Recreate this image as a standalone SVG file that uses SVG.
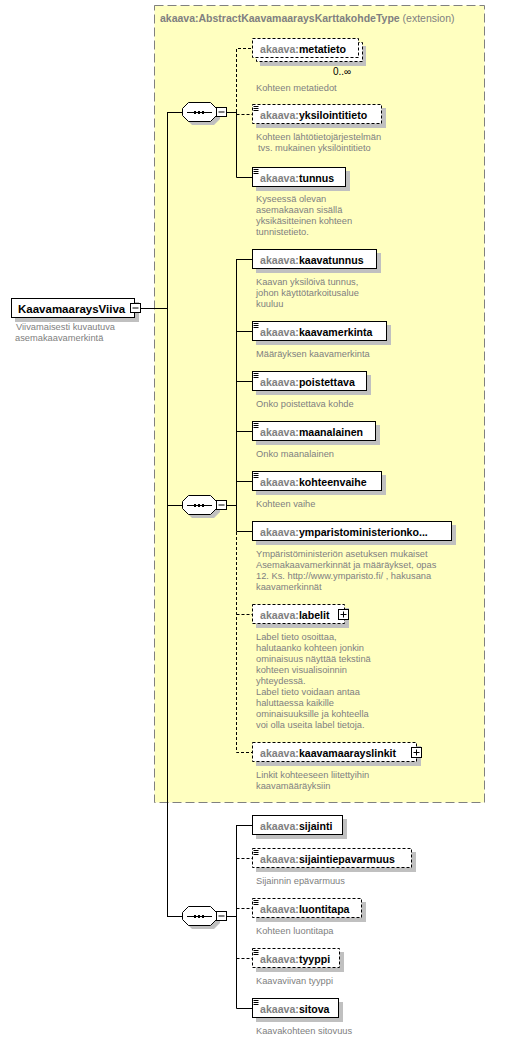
<svg xmlns="http://www.w3.org/2000/svg" width="527" height="1041" viewBox="0 0 527 1041">
<style>
.bg{fill:#fff}
.ext{fill:#ffffc0;stroke:#808080;stroke-width:1;stroke-dasharray:9,4}
.ttl{font-family:"Liberation Sans",Arial,sans-serif;font-size:10.5px;fill:#808080}
.sh{fill:#c0c0c0}
.box{fill:#fff;stroke:#000;stroke-width:1}
.opt{stroke-dasharray:3,2}
.ln{stroke:#000;stroke-width:1;fill:none}
.dl{stroke-dasharray:3,2}
.nm{font-family:"Liberation Sans",Arial,sans-serif;font-weight:bold;font-size:10.6px;fill:#000}
.pfx{fill:#808080}
.desc{font-family:"Liberation Sans",Arial,sans-serif;font-size:9.3px;fill:#808080}
.ic{stroke:#000;stroke-width:1}
.occ{font-family:"Liberation Sans",Arial,sans-serif;font-size:10px;fill:#000}
</style>
<defs>
<g id="docicon"><path class="ic" d="M1.5,2.5h5M1.5,4.5h5M1.5,6.5h5"/></g>
<g id="plus"><rect x="0.5" y="0.5" width="10" height="10" class="box"/><path class="ic" d="M2.5,5.5h6M5.5,2.5v6"/></g>
<g id="minus"><rect x="0.5" y="0.5" width="10" height="9" class="box"/><path class="ic" d="M2.5,5h6"/></g>
<g id="seq">
<polygon class="sh" points="10,-6 32,-6 38,0 38,7 32,13 10,13 4,7 4,0"/>
<polygon class="box" points="6.5,-9.5 28.5,-9.5 34.5,-3.5 34.5,3.5 28.5,9.5 6.5,9.5 0.5,3.5 0.5,-3.5"/>
<path class="ic" d="M5,0.5h25"/>
<rect x="12" y="-1" width="2" height="3" fill="#000"/>
<rect x="16" y="-1" width="2" height="3" fill="#000"/>
<rect x="20" y="-1" width="2" height="3" fill="#000"/>
</g>
</defs>
<rect class="bg" x="0" y="0" width="527" height="1041"/>
<g id="extension">
<rect class="ext" x="154.5" y="5.5" width="330" height="797"/>
<text class="ttl" x="160" y="22"><tspan font-weight="bold">akaava:AbstractKaavamaaraysKarttakohdeType</tspan> (extension)</text>
</g>
<g id="connectors">
<path class="ln" d="M140,308.5H167.5M167.5,112V916.5M167,112.5H182M167,505.5H182M167,916.5H182"/>
<path class="ln" d="M227,112.5H236.5M236.5,112V177.5H252"/>
<path class="ln dl" d="M236.5,112V48.5H252M236.5,114.5H252"/>
<path class="ln" d="M227,505.5H236.5M236.5,259V531.5M236.5,259.5H252M236.5,331.5H252M236.5,381.5H252M236.5,431.5H252M236.5,481.5H252M236.5,531.5H252"/>
<path class="ln dl" d="M236.5,532V752.5H252M236.5,614.5H252"/>
<path class="ln" d="M227,916.5H236.5M236.5,825V1008.5M236.5,825.5H252M236.5,1008.5H252"/>
<path class="ln dl" d="M236.5,858.5H252M236.5,908.5H252M236.5,958.5H252"/>
</g>
<g id="KaavamaaraysViiva">
<rect class="sh" x="15" y="302" width="124" height="20"/>
<rect class="box" x="11.5" y="298.5" width="123" height="19"/>
<text class="nm" x="18" y="312.5" style="font-size:11.5px">KaavamaaraysViiva</text>
<use href="#minus" x="130" y="303"/>
<text class="desc" x="16" y="330">Viivamaisesti kuvautuva</text>
<text class="desc" x="15" y="341">asemakaavamerkintä</text>
</g>
<g id="seq1"><use href="#seq" x="182" y="112"/><use href="#minus" x="216" y="107"/></g>
<g id="seq2"><use href="#seq" x="182" y="505"/><use href="#minus" x="216" y="500"/></g>
<g id="seq3"><use href="#seq" x="182" y="916"/><use href="#minus" x="216" y="911"/></g>
<g id="metatieto">
<rect class="sh" x="260" y="46" width="106" height="20"/>
<rect class="box opt" x="256.5" y="42.5" width="106" height="19"/>
<rect class="box opt" x="252.5" y="38.5" width="106" height="19"/>
<text class="nm" x="260" y="52.5"><tspan class="pfx">akaava:</tspan>metatieto</text>
<text class="occ" x="333" y="75">0..∞</text>
<text class="desc" x="256" y="91">Kohteen metatiedot</text>
</g>
<g id="yksilointitieto">
<rect class="sh" x="256" y="108" width="130" height="20"/>
<rect class="box opt" x="252.5" y="104.5" width="129" height="19"/>
<use href="#docicon" x="252" y="104"/>
<text class="nm" x="260" y="118.5"><tspan class="pfx">akaava:</tspan>yksilointitieto</text>
<text class="desc" x="256" y="140">Kohteen lähtötietojärjestelmän</text>
<text class="desc" x="258" y="151">tvs. mukainen yksilöintitieto</text>
</g>
<g id="tunnus">
<rect class="sh" x="256" y="171" width="94" height="20"/>
<rect class="box" x="252.5" y="167.5" width="93" height="19"/>
<use href="#docicon" x="252" y="167"/>
<text class="nm" x="260" y="181.5"><tspan class="pfx">akaava:</tspan>tunnus</text>
<text class="desc" x="256" y="202">Kyseessä olevan</text>
<text class="desc" x="256" y="213">asemakaavan sisällä</text>
<text class="desc" x="256" y="224">yksikäsitteinen kohteen</text>
<text class="desc" x="256" y="235">tunnistetieto.</text>
</g>
<g id="kaavatunnus">
<rect class="sh" x="256" y="253" width="125" height="20"/>
<rect class="box" x="252.5" y="249.5" width="124" height="19"/>
<text class="nm" x="260" y="263.5"><tspan class="pfx">akaava:</tspan>kaavatunnus</text>
<text class="desc" x="256" y="285">Kaavan yksilöivä tunnus,</text>
<text class="desc" x="256" y="296">johon käyttötarkoitusalue</text>
<text class="desc" x="256" y="307">kuuluu</text>
</g>
<g id="kaavamerkinta">
<rect class="sh" x="256" y="325" width="135" height="20"/>
<rect class="box" x="252.5" y="321.5" width="134" height="19"/>
<use href="#docicon" x="252" y="321"/>
<text class="nm" x="260" y="335.5"><tspan class="pfx">akaava:</tspan>kaavamerkinta</text>
<text class="desc" x="256" y="357">Määräyksen kaavamerkinta</text>
</g>
<g id="poistettava">
<rect class="sh" x="256" y="375" width="115" height="20"/>
<rect class="box" x="252.5" y="371.5" width="114" height="19"/>
<use href="#docicon" x="252" y="371"/>
<text class="nm" x="260" y="385.5"><tspan class="pfx">akaava:</tspan>poistettava</text>
<text class="desc" x="256" y="407">Onko poistettava kohde</text>
</g>
<g id="maanalainen">
<rect class="sh" x="256" y="425" width="124" height="20"/>
<rect class="box" x="252.5" y="421.5" width="123" height="19"/>
<use href="#docicon" x="252" y="421"/>
<text class="nm" x="260" y="435.5"><tspan class="pfx">akaava:</tspan>maanalainen</text>
<text class="desc" x="256" y="457">Onko maanalainen</text>
</g>
<g id="kohteenvaihe">
<rect class="sh" x="256" y="475" width="130" height="20"/>
<rect class="box" x="252.5" y="471.5" width="129" height="19"/>
<use href="#docicon" x="252" y="471"/>
<text class="nm" x="260" y="485.5"><tspan class="pfx">akaava:</tspan>kohteenvaihe</text>
<text class="desc" x="256" y="507">Kohteen vaihe</text>
</g>
<g id="ymparistoministerionkoodi">
<rect class="sh" x="256" y="525" width="200" height="20"/>
<rect class="box" x="252.5" y="521.5" width="199" height="19"/>
<text class="nm" x="260" y="535.5"><tspan class="pfx">akaava:</tspan>ymparistoministerionko...</text>
<text class="desc" x="256" y="557">Ympäristöministeriön asetuksen mukaiset</text>
<text class="desc" x="256" y="568">Asemakaavamerkinnät ja määräykset, opas</text>
<text class="desc" x="256" y="579">12. Ks. http://www.ymparisto.fi/ , hakusana</text>
<text class="desc" x="256" y="590">kaavamerkinnät</text>
</g>
<g id="labelit">
<rect class="sh" x="256" y="608" width="93" height="20"/>
<rect class="box opt" x="252.5" y="604.5" width="92" height="19"/>
<text class="nm" x="260" y="618.5"><tspan class="pfx">akaava:</tspan>labelit</text>
<use href="#plus" x="338" y="609"/>
<text class="desc" x="256" y="640">Label tieto osoittaa,</text>
<text class="desc" x="256" y="651">halutaanko kohteen jonkin</text>
<text class="desc" x="256" y="662">ominaisuus näyttää tekstinä</text>
<text class="desc" x="256" y="673">kohteen visualisoinnin</text>
<text class="desc" x="256" y="684">yhteydessä.</text>
<text class="desc" x="256" y="695">Label tieto voidaan antaa</text>
<text class="desc" x="256" y="706">haluttaessa kaikille</text>
<text class="desc" x="256" y="717">ominaisuuksille ja kohteella</text>
<text class="desc" x="256" y="728">voi olla useita label tietoja.</text>
</g>
<g id="kaavamaarayslinkit">
<rect class="sh" x="256" y="746" width="165" height="20"/>
<rect class="box opt" x="252.5" y="742.5" width="164" height="19"/>
<text class="nm" x="260" y="756.5"><tspan class="pfx">akaava:</tspan>kaavamaarayslinkit</text>
<use href="#plus" x="411" y="747"/>
<text class="desc" x="256" y="778">Linkit kohteeseen liitettyihin</text>
<text class="desc" x="256" y="789">kaavamääräyksiin</text>
</g>
<g id="sijainti">
<rect class="sh" x="256" y="819" width="91" height="20"/>
<rect class="box" x="252.5" y="815.5" width="90" height="19"/>
<text class="nm" x="260" y="829.5"><tspan class="pfx">akaava:</tspan>sijainti</text>
</g>
<g id="sijaintiepavarmuus">
<rect class="sh" x="256" y="852" width="160" height="20"/>
<rect class="box opt" x="252.5" y="848.5" width="159" height="19"/>
<use href="#docicon" x="252" y="848"/>
<text class="nm" x="260" y="862.5"><tspan class="pfx">akaava:</tspan>sijaintiepavarmuus</text>
<text class="desc" x="256" y="884">Sijainnin epävarmuus</text>
</g>
<g id="luontitapa">
<rect class="sh" x="256" y="902" width="110" height="20"/>
<rect class="box opt" x="252.5" y="898.5" width="109" height="19"/>
<use href="#docicon" x="252" y="898"/>
<text class="nm" x="260" y="912.5"><tspan class="pfx">akaava:</tspan>luontitapa</text>
<text class="desc" x="256" y="934">Kohteen luontitapa</text>
</g>
<g id="tyyppi">
<rect class="sh" x="256" y="952" width="88" height="20"/>
<rect class="box opt" x="252.5" y="948.5" width="87" height="19"/>
<use href="#docicon" x="252" y="948"/>
<text class="nm" x="260" y="962.5"><tspan class="pfx">akaava:</tspan>tyyppi</text>
<text class="desc" x="256" y="984">Kaavaviivan tyyppi</text>
</g>
<g id="sitova">
<rect class="sh" x="256" y="1002" width="87" height="20"/>
<rect class="box" x="252.5" y="998.5" width="86" height="19"/>
<use href="#docicon" x="252" y="998"/>
<text class="nm" x="260" y="1012.5"><tspan class="pfx">akaava:</tspan>sitova</text>
<text class="desc" x="256" y="1034">Kaavakohteen sitovuus</text>
</g>
</svg>
